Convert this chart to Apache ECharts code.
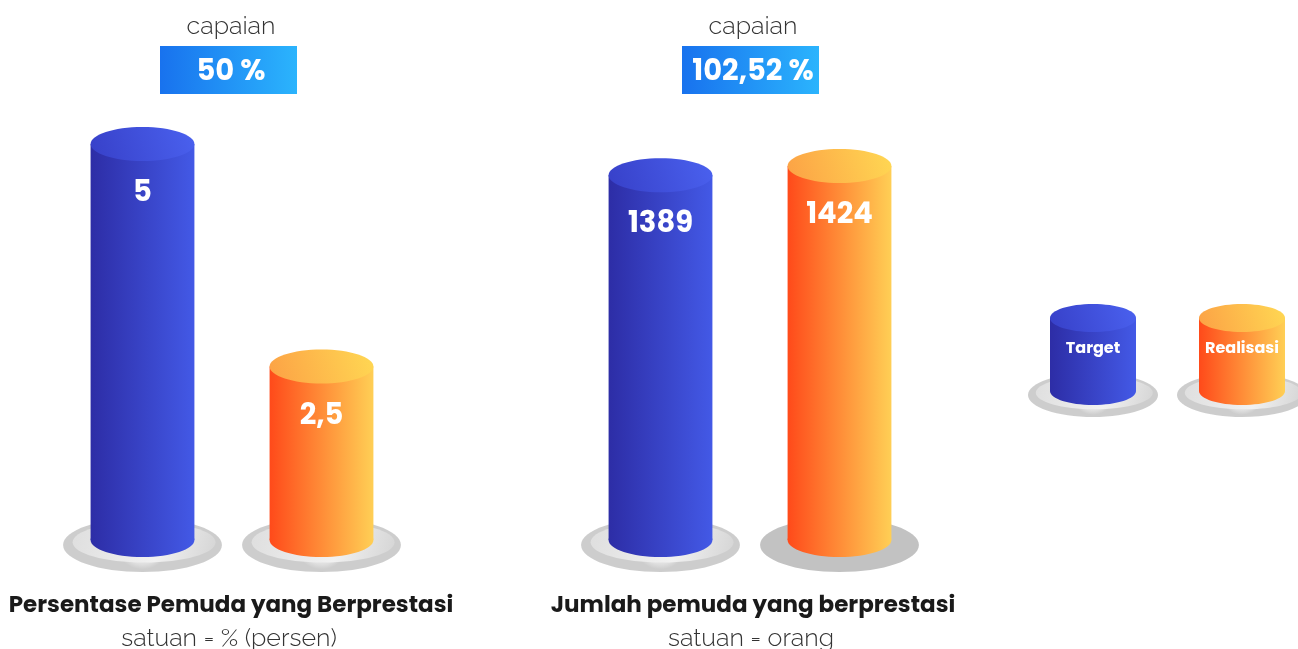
<!DOCTYPE html>
<html>
<head>
<meta charset="utf-8">
<script src="https://cdn.jsdelivr.net/npm/echarts@6/dist/echarts.min.js"></script>
<style>
html, body { margin: 0; padding: 0; background: #fff; }
#chart { width: 1298px; height: 649px; }
</style>
</head>
<body>
<div id="chart"></div>
<script>
// data
const categories = ['Target', 'Realisasi'];
const persenValues = [5, 2.5];
const orangValues = [1389, 1424];
const capaianLabels = ['50 %', '102,52 %'];
const groupTitles = ['Persentase Pemuda yang Berprestasi', 'Jumlah pemuda yang berprestasi'];
const groupUnits = ['satuan = % (persen)', 'satuan = orang'];

const BOLD_FONT = 'Poppins, Inter, "Open Sans", sans-serif';
const LIGHT_FONT = 'Raleway, Lato, "Open Sans", sans-serif';

const PALETTES = [
    { body: ['#2d2da6', '#4359e6'], top: ['#3740c8', '#4a61ef'] },
    { body: ['#ff4a1a', '#ffcf55'], top: ['#fca145', '#ffd853'] }
];

function lin(colors, diag) {
    return {
        type: 'linear', x: 0, y: diag ? 1 : 0, x2: 1, y2: 0,
        colorStops: [{ offset: 0, color: colors[0] }, { offset: 1, color: colors[1] }]
    };
}

function plate(cx, cy, rx, ry, flat) {
    if (flat) {
        return [{ type: 'ellipse', shape: { cx: cx, cy: cy, rx: rx, ry: ry }, style: { fill: '#c2c2c2' } }];
    }
    return [
        {
            type: 'ellipse', shape: { cx: cx, cy: cy, rx: rx, ry: ry },
            style: {
                fill: {
                    type: 'radial', x: 0.5, y: 0.45, r: 0.5,
                    colorStops: [{ offset: 0, color: '#eeeeee' }, { offset: 0.8, color: '#e0e0e0' }, { offset: 1, color: '#cdcdcd' }]
                }
            }
        },
        {
            type: 'ellipse', shape: { cx: cx + rx * 0.02, cy: cy - ry * 0.1, rx: rx * 0.9, ry: ry * 0.75 },
            style: {
                fill: {
                    type: 'linear', x: 0, y: 0, x2: 1, y2: 1,
                    colorStops: [{ offset: 0, color: '#dedede' }, { offset: 0.6, color: '#f1f1f1' }, { offset: 1, color: '#d4d4d4' }]
                }
            }
        }
    ];
}

function cylinder(cx, topY, baseY, rx, ry, pal) {
    return [
        { type: 'rect', shape: { x: cx - rx, y: topY, width: rx * 2, height: baseY - topY }, style: { fill: lin(pal.body) } },
        { type: 'ellipse', shape: { cx: cx, cy: baseY, rx: rx, ry: ry }, style: { fill: lin(pal.body) } },
        { type: 'ellipse', shape: { cx: cx, cy: topY, rx: rx, ry: ry }, style: { fill: lin(pal.top, true) } }
    ];
}

function fmt(v) {
    return String(v).replace('.', ',');
}

function makeRender(groupIdx) {
    return function (params, api) {
        const idx = api.value(0);
        const val = api.value(1);
        const top = api.coord([idx, val]);
        const baseY = params.coordSys.y + params.coordSys.height;
        const rx = api.size([1, 0])[0] * 0.29;
        const cx = top[0];
        const children = []
            .concat(plate(cx, baseY + 5, rx * 1.53, 27, groupIdx === 1 && idx === 1))
            .concat(cylinder(cx, top[1], baseY, rx, 17, PALETTES[idx]));
        children.push({
            type: 'text',
            style: {
                x: cx, y: top[1] + 50, text: fmt(val), fill: '#fff',
                font: 'bold 29px ' + BOLD_FONT, align: 'center', verticalAlign: 'middle'
            }
        });
        return { type: 'group', children: children };
    };
}

function toData(values) {
    return values.map(function (v, i) { return [i, v]; });
}

// static texts and legend
const graphics = [];
const centers = [230, 752];
centers.forEach(function (cx, g) {
    graphics.push({
        type: 'text', x: cx + 1, y: 26,
        style: { text: 'capaian', font: '300 25px ' + LIGHT_FONT, fill: '#333', align: 'center', verticalAlign: 'middle' }
    });
    graphics.push({
        type: 'rect', shape: { x: cx - 70, y: 46, width: 137, height: 48 },
        style: { fill: lin(['#1872ee', '#2bb4fd']) }
    });
    graphics.push({
        type: 'text', x: cx + 1, y: 73,
        style: { text: capaianLabels[g], font: 'bold 29px ' + BOLD_FONT, fill: '#fff', align: 'center', verticalAlign: 'middle' }
    });
    graphics.push({
        type: 'text', x: cx + 1, y: 606,
        style: { text: groupTitles[g], font: 'bold 23px ' + BOLD_FONT, fill: '#1a1a1a', align: 'center', verticalAlign: 'middle' }
    });
    graphics.push({
        type: 'text', x: cx - 1, y: 638,
        style: { text: groupUnits[g], font: '300 25px ' + LIGHT_FONT, fill: '#333', align: 'center', verticalAlign: 'middle' }
    });
});

const legendX = [1093, 1242];
categories.forEach(function (name, i) {
    const cx = legendX[i];
    graphics.push({
        type: 'group',
        children: plate(cx, 395, 65, 22, false)
            .concat(cylinder(cx, 318, 391, 43, 14, PALETTES[i]))
            .concat([{
                type: 'text',
                style: { x: cx, y: 349, text: name, fill: '#fff', font: 'bold 16px ' + BOLD_FONT, align: 'center', verticalAlign: 'middle' }
            }])
    });
});

const chart = echarts.init(document.getElementById('chart'));
chart.setOption({
    animation: false,
    grid: [
        { left: 53, top: 144, width: 358, height: 396 },
        { left: 571, top: 146, width: 358, height: 394 }
    ],
    xAxis: [
        { gridIndex: 0, type: 'category', data: categories, show: false },
        { gridIndex: 1, type: 'category', data: categories, show: false }
    ],
    yAxis: [
        { gridIndex: 0, type: 'value', min: 0.55, max: 5, show: false },
        { gridIndex: 1, type: 'value', min: 0, max: 1500, show: false }
    ],
    series: [
        { type: 'custom', xAxisIndex: 0, yAxisIndex: 0, data: toData(persenValues), renderItem: makeRender(0) },
        { type: 'custom', xAxisIndex: 1, yAxisIndex: 1, data: toData(orangValues), renderItem: makeRender(1) }
    ],
    graphic: graphics
});
</script>
</body>
</html>
